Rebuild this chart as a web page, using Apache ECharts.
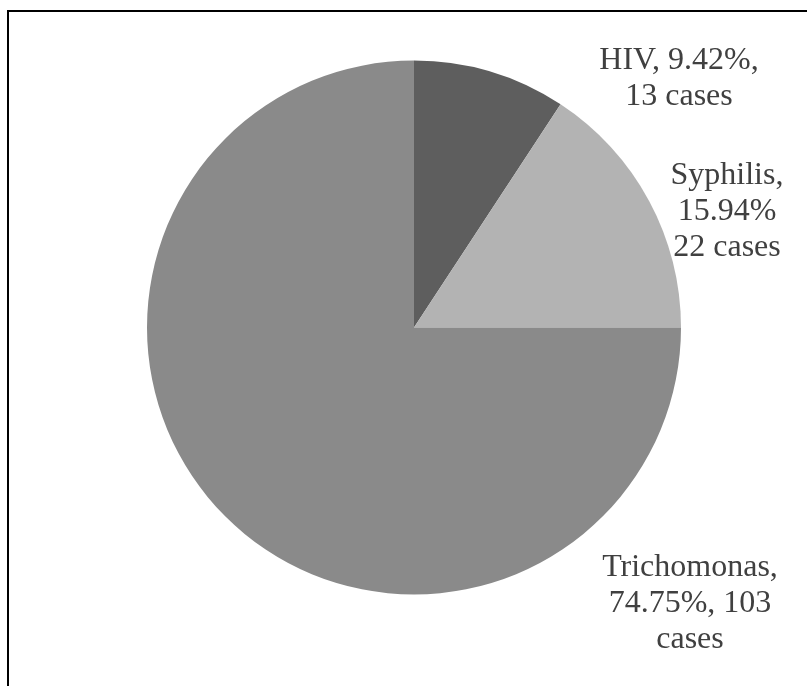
<!DOCTYPE html>
<html>
<head>
<meta charset="utf-8">
<script src="https://cdn.jsdelivr.net/npm/echarts@6/dist/echarts.min.js"></script>
<style>
  html, body { margin: 0; padding: 0; background: #fff; }
  #main { width: 807px; height: 686px; }
</style>
</head>
<body>
<div id="main"></div>
<script>
// values
let names = ['HIV', 'Syphilis', 'Trichomonas'];
let cases = [13, 22, 103];
let percents = ['9.42%', '15.94%', '74.75%'];
// slice sizes as drawn (share of the circle, in %)
let shares = [9.25, 15.75, 75];
let colors = ['#5e5e5e', '#b3b3b3', '#8a8a8a'];

// label text as in the original (line breaks differ per slice)
let labelText = [
    names[0] + ', ' + percents[0] + ',\n' + cases[0] + ' cases',
    names[1] + ',\n' + percents[1] + '\n' + cases[1] + ' cases',
    names[2] + ',\n' + percents[2] + ', ' + cases[2] + '\ncases'
];
// where each label sits
let labelPos = [[679, 79], [727, 212], [690, 604]];

let chart = echarts.init(document.getElementById('main'), null, { renderer: 'canvas' });

let option = {
    backgroundColor: '#ffffff',
    animation: false,
    graphic: [
        { type: 'line', shape: { x1: 8, y1: 11, x2: 807, y2: 11 }, style: { stroke: '#000', lineWidth: 2 } },
        { type: 'line', shape: { x1: 8, y1: 10, x2: 8, y2: 686 }, style: { stroke: '#000', lineWidth: 2 } }
    ],
    series: [{
        type: 'pie',
        center: [414, 327.5],
        radius: [0, 267],
        startAngle: 90,
        clockwise: true,
        silent: true,
        label: {
            show: true,
            position: 'outside',
            fontFamily: 'Liberation Serif',
            fontSize: 32,
            lineHeight: 36,
            color: '#404040',
            align: 'center',
            overflow: 'none',
            formatter: function (p) {
                return labelText[p.dataIndex];
            }
        },
        labelLine: { show: false },
        labelLayout: function (params) {
            let pos = labelPos[params.dataIndex];
            return { x: pos[0], y: pos[1], align: 'center', verticalAlign: 'middle', hideOverlap: false };
        },
        itemStyle: { borderWidth: 0 },
        data: names.map(function (n, i) {
            return { name: n, value: shares[i], itemStyle: { color: colors[i] } };
        })
    }]
};

if (chart) {
    chart.setOption(option);
}
</script>
</body>
</html>
